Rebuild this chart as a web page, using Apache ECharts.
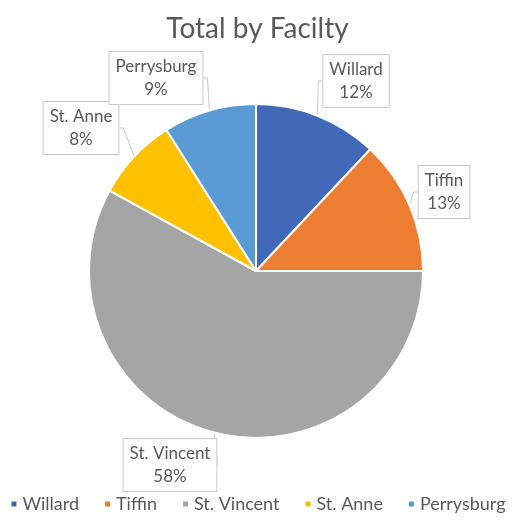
<!DOCTYPE html>
<html>
<head>
<meta charset="utf-8">
<script src="https://cdn.jsdelivr.net/npm/echarts@6/dist/echarts.min.js"></script>
<style>
  html, body { margin: 0; padding: 0; background: #fff; }
  #chart { width: 515px; height: 520px; }
</style>
</head>
<body>
<div id="chart"></div>
<script>
// facilities, clockwise from 12 o'clock
let facilities = ['Willard', 'Tiffin', 'St. Vincent', 'St. Anne', 'Perrysburg'];
let shares = [12, 13, 58, 8, 9];
let colors = ['#4169b8', '#ed7d31', '#a5a5a5', '#ffc000', '#5b9bd5'];

// where the callout boxes sit (centre of each box, px)
let label_pos = [[356, 81], [444, 192], [170, 465], [81, 128], [156, 78]];

let myChart = echarts.init(document.getElementById('chart'));

let option = {
    backgroundColor: '#fff',
    color: colors,
    textStyle: { fontFamily: 'Lato, "Open Sans", sans-serif' },
    title: {
        text: 'Total by Facilty',
        left: 'center',
        top: 10,
        textStyle: { fontSize: 28, fontWeight: 'normal', color: '#595959' }
    },
    legend: {
        bottom: 2,
        left: 'center',
        icon: 'rect',
        itemWidth: 7,
        itemHeight: 7,
        itemGap: 24,
        textStyle: { fontSize: 18, color: '#595959' },
        data: facilities
    },
    series: [
        {
            type: 'pie',
            center: [256, 271],
            radius: 167,
            startAngle: 90,
            clockwise: true,
            itemStyle: { borderColor: '#fff', borderWidth: 2 },
            label: {
                show: true,
                formatter: '{b}\n{d}%',
                fontSize: 17,
                lineHeight: 23,
                color: '#595959',
                backgroundColor: '#fff',
                borderColor: '#c8c8c8',
                borderWidth: 1,
                padding: [3, 6]
            },
            labelLine: {
                show: true,
                length: 6,
                length2: 4,
                lineStyle: { color: '#c8c8c8', width: 1 }
            },
            labelLayout: function (params) {
                let p = label_pos[params.dataIndex];
                return { x: p[0], y: p[1], align: 'center', verticalAlign: 'middle' };
            },
            data: facilities.map((name, i) => ({ name: name, value: shares[i] }))
        }
    ]
};

myChart.setOption(option);
</script>
</body>
</html>
